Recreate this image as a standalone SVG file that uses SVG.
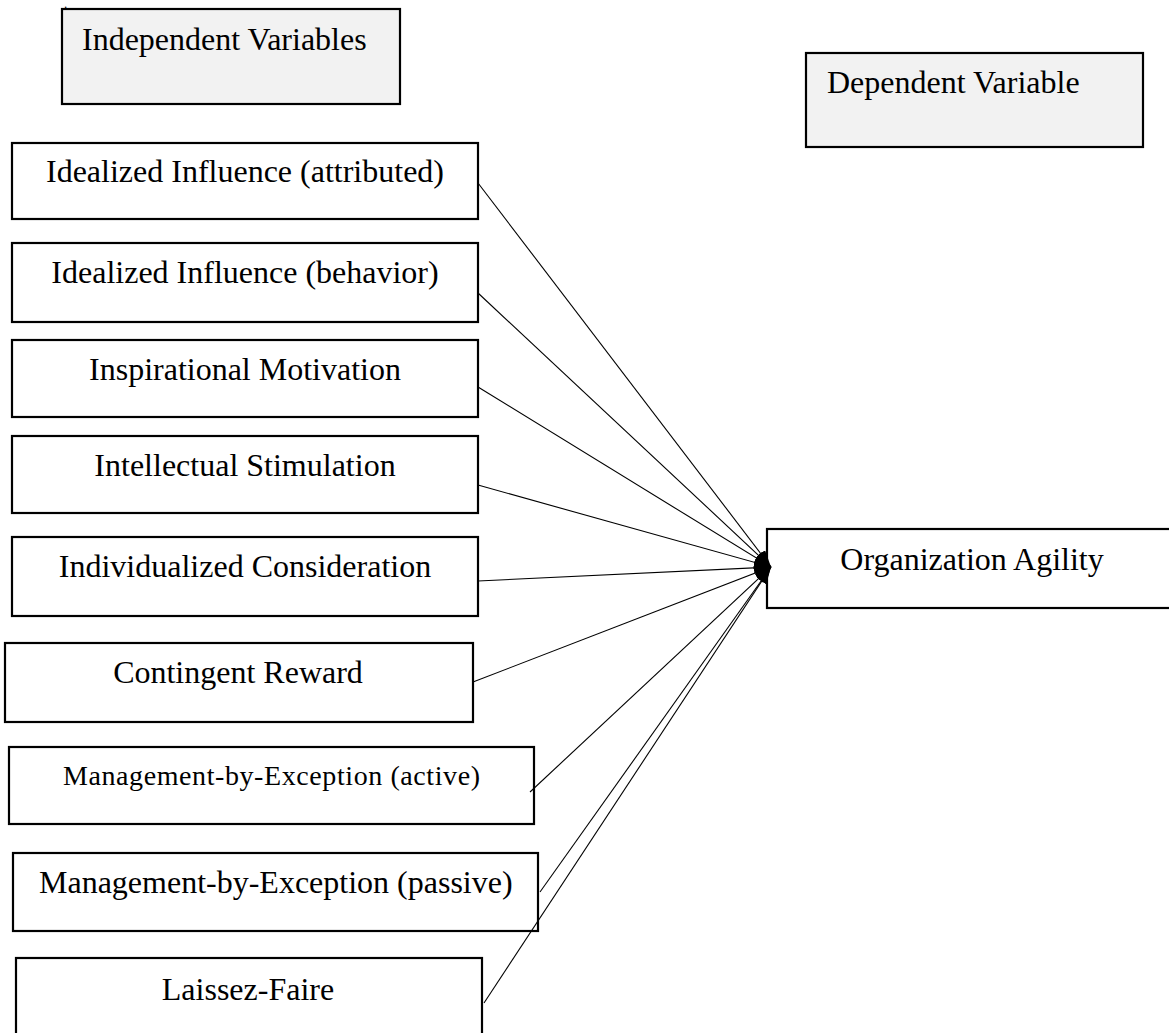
<svg xmlns="http://www.w3.org/2000/svg" width="1169" height="1033" viewBox="0 0 1169 1033">
<style>
  .box { fill: #ffffff; stroke: #000000; stroke-width: 2.2; }
  .hdr { fill: #f2f2f2; stroke: #000000; stroke-width: 2.2; }
  .lbl { font-family: "Liberation Serif", "Times New Roman", serif; font-size: 32px; fill: #000000; }
  .ctr { text-anchor: middle; }
  .conn line { stroke: #000000; stroke-width: 1.1; fill: none; marker-end: url(#arrow); }
</style>
<defs>
  <marker id="arrow" markerUnits="userSpaceOnUse" markerWidth="18" markerHeight="12" refX="17" refY="5.5" orient="auto">
    <path d="M0,0 L17,5.5 L0,11 Z" fill="#000000"/>
  </marker>
</defs>
<rect width="1169" height="1033" fill="#ffffff"/>

<g id="independent-variables">
  <rect class="hdr" x="62" y="9" width="338" height="95"/>
  <text class="lbl" x="82" y="50">Independent Variables</text>
</g>
<g id="dependent-variable">
  <rect class="hdr" x="806" y="53" width="337" height="94"/>
  <text class="lbl" x="827" y="93">Dependent Variable</text>
</g>
<text x="64.5" y="7.5" style="font-family: 'Liberation Serif', serif; font-size: 9px; font-weight: bold;">.</text>

<g id="idealized-attributed">
  <rect class="box" x="12" y="143" width="466" height="76"/>
  <text class="lbl ctr" x="245" y="182">Idealized Influence (attributed)</text>
</g>
<g id="idealized-behavior">
  <rect class="box" x="12" y="243" width="466" height="79"/>
  <text class="lbl ctr" x="245" y="283">Idealized Influence (behavior)</text>
</g>
<g id="inspirational-motivation">
  <rect class="box" x="12" y="340" width="466" height="77"/>
  <text class="lbl ctr" x="245" y="380">Inspirational Motivation</text>
</g>
<g id="intellectual-stimulation">
  <rect class="box" x="12" y="436" width="466" height="77"/>
  <text class="lbl ctr" x="245" y="476">Intellectual Stimulation</text>
</g>
<g id="individualized-consideration">
  <rect class="box" x="12" y="537" width="466" height="79"/>
  <text class="lbl ctr" x="245" y="577">Individualized Consideration</text>
</g>
<g id="contingent-reward">
  <rect class="box" x="5" y="643" width="468" height="79"/>
  <text class="lbl ctr" x="238" y="683">Contingent Reward</text>
</g>
<g id="mbe-active">
  <rect class="box" x="9" y="747" width="525" height="77"/>
  <text class="lbl" x="63" y="785" style="font-size: 28px;" textLength="417" lengthAdjust="spacing">Management-by-Exception (active)</text>
</g>
<g id="mbe-passive">
  <rect class="box" x="13" y="853" width="525" height="78"/>
  <text class="lbl" x="39" y="893">Management-by-Exception (passive)</text>
</g>
<g id="laissez-faire">
  <rect class="box" x="16" y="958" width="466" height="90"/>
  <text class="lbl ctr" x="248" y="1000">Laissez-Faire</text>
</g>
<g id="organization-agility">
  <rect class="box" x="767" y="529" width="412" height="79"/>
  <text class="lbl ctr" x="972" y="570">Organization Agility</text>
</g>

<g id="connectors" class="conn">
  <line x1="478" y1="183" x2="771" y2="567"/>
  <line x1="478" y1="293" x2="771" y2="567"/>
  <line x1="478" y1="387" x2="771" y2="567"/>
  <line x1="478" y1="485" x2="771" y2="567"/>
  <line x1="478" y1="581" x2="771" y2="567"/>
  <line x1="473" y1="682" x2="771" y2="567"/>
  <line x1="530" y1="792" x2="771" y2="567"/>
  <line x1="540" y1="892" x2="771" y2="567"/>
  <line x1="484" y1="1003" x2="771" y2="567"/>
</g>
</svg>
